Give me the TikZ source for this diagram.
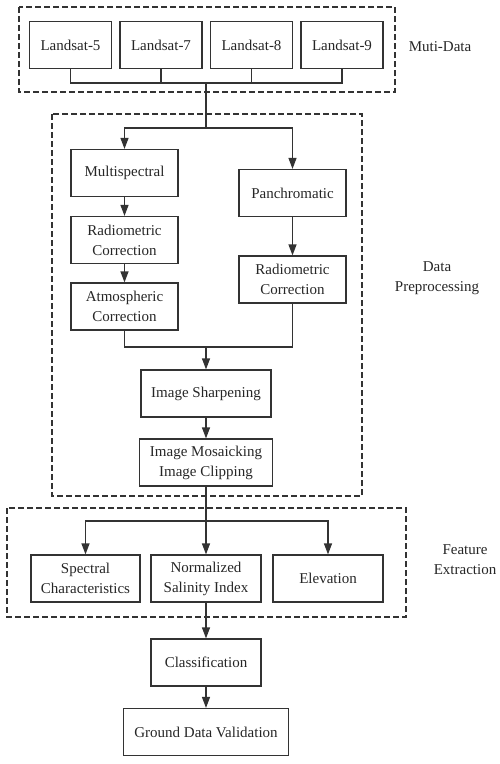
\documentclass[tikz,border=0pt]{standalone}
\usepackage{fontspec}
\setmainfont{Liberation Serif}
\usetikzlibrary{arrows.meta,positioning}

\begin{document}
\begin{tikzpicture}[x=1pt,y=-1pt,
    every node/.style={font=\fontsize{15}{20}\selectfont,text=black!85,align=center},
    box/.style={draw=black!80,line width=1.2pt,rectangle,inner sep=0pt,minimum height=47pt},
    group/.style={draw=black!80,line width=1.1pt,dash pattern=on 6pt off 3pt},
    link/.style={draw=black!80,line width=1.2pt},
    flow/.style={link,-{Triangle[width=8pt,length=11pt]}}]
  \useasboundingbox (0,0) rectangle (500,764);

  % data sources
  \node[box,minimum width=82pt] (l5) at (70.5,45) {Landsat-5};
  \node[box,minimum width=82pt] (l7) at (161,45) {Landsat-7};
  \node[box,minimum width=82pt] (l8) at (251.5,45) {Landsat-8};
  \node[box,minimum width=82pt] (l9) at (342,45) {Landsat-9};
  \draw[group] (19,7) rectangle (395,92);
  \node (muti) at (440,47) {Muti-Data};

  % preprocessing
  \node[box,minimum width=107pt] (ms) at (124.5,173) {Multispectral};
  \node[box,minimum width=107pt] (rad1) at (124.5,240) {Radiometric\\Correction};
  \node[box,minimum width=107pt] (atm) at (124.5,306.5) {Atmospheric\\Correction};
  \node[box,minimum width=107pt] (pan) at (292.5,193) {Panchromatic};
  \node[box,minimum width=107pt] (rad2) at (292.5,279.5) {Radiometric\\Correction};
  \node[box,minimum width=130pt] (sharp) at (206,393.5) {Image Sharpening};
  \node[box,minimum width=133pt] (mosaic) at (206,462.5) {Image Mosaicking\\Image Clipping};
  \draw[group] (52,114) rectangle (362,496);
  \node (prep) at (437,278) {Data\\Preprocessing};

  % features
  \node[box,minimum width=109pt] (spec) at (85.5,578.5) {Spectral\\Characteristics};
  \node[box,minimum width=110pt] (nsi) at (206,578.5) {Normalized\\Salinity Index};
  \node[box,minimum width=110pt] (elev) at (328,578.5) {Elevation};
  \draw[group] (7,508) rectangle (406,617);
  \node (feat) at (465,560) {Feature\\Extraction};

  % result
  \node[box,minimum width=110pt] (cls) at (206,662.5) {Classification};
  \node[box,minimum width=165pt] (gdv) at (206,732) {Ground Data Validation};

  \coordinate (bus) at (206,83);
  \coordinate (split) at (206,128);
  \coordinate (merge) at (206,347);
  \coordinate (fsplit) at (206,521);

  \draw[link] (l5.south) |- (bus) -| (l9.south);
  \draw[link] (l7.south) |- (bus);
  \draw[link] (l8.south) |- (bus);
  \draw[link] (bus) -- (split);
  \draw[flow] (split) -| (ms.north);
  \draw[flow] (split) -| (pan.north);
  \draw[flow] (ms) -- (rad1);
  \draw[flow] (rad1) -- (atm);
  \draw[flow] (pan) -- (rad2);
  \draw[link] (atm.south) |- (merge) -| (rad2.south);
  \draw[flow] (merge) -- (sharp.north);
  \draw[flow] (sharp) -- (mosaic);
  \draw[link] (mosaic.south) -- (fsplit);
  \draw[flow] (fsplit) -| (spec.north);
  \draw[flow] (fsplit) -- (nsi.north);
  \draw[flow] (fsplit) -| (elev.north);
  \draw[flow] (nsi) -- (cls);
  \draw[flow] (cls) -- (gdv);
\end{tikzpicture}
\end{document}
